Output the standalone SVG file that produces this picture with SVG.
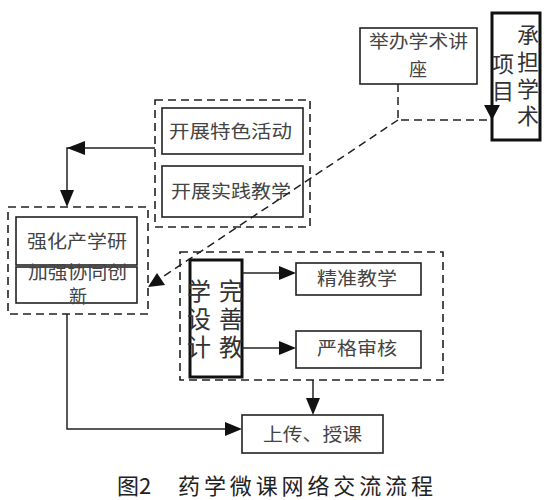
<svg xmlns="http://www.w3.org/2000/svg" width="550" height="500" viewBox="0 0 550 500">
<style>
.bg{fill:#fff}
.box{fill:#fff;stroke:#222;stroke-width:1.6}
.thick{fill:#fff;stroke:#111;stroke-width:3}
.grp{fill:none;stroke:#222;stroke-width:1.6;stroke-dasharray:8,5}
.ln{fill:none;stroke:#222;stroke-width:1.5}
.dl{fill:none;stroke:#222;stroke-width:1.5;stroke-dasharray:8,5}
.ah{fill:#111;stroke:none}
.t{font-family:"Noto Sans CJK SC","Noto Sans",sans-serif;font-size:18px;fill:#444}
.tv{font-family:"Noto Sans CJK SC","Noto Sans",sans-serif;font-size:22px;fill:#333;writing-mode:vertical-rl;letter-spacing:5px}
.tv2{font-family:"Noto Sans CJK SC","Noto Sans",sans-serif;font-size:24px;fill:#333;writing-mode:vertical-rl;letter-spacing:4px}
.cap{font-family:"Noto Sans CJK SC","Noto Sans",sans-serif;font-size:22px;fill:#222}
</style>
<rect class="bg" x="0" y="0" width="550" height="500"/>

<g id="node-jubanxueshu">
<rect class="box" x="360" y="28" width="117" height="56"/>
<text class="t" x="369" y="48" textLength="99" lengthAdjust="spacingAndGlyphs">举办学术讲</text>
<text class="t" x="418" y="76" text-anchor="middle">座</text>
</g>

<g id="node-chengdan">
<rect class="thick" x="492" y="13" width="48" height="127"/>
<text class="tv" x="528" y="24">承担学术</text>
<text class="tv" x="503" y="53">项目</text>
</g>

<g id="group-kaizhan">
<rect class="grp" x="155" y="100" width="155" height="127"/>
<g id="node-tese">
<rect class="box" x="162" y="108" width="141" height="46"/>
<text class="t" x="169" y="138" textLength="123" lengthAdjust="spacingAndGlyphs">开展特色活动</text>
</g>
<g id="node-shijian">
<rect class="box" x="162" y="166" width="141" height="51"/>
<text class="t" x="171" y="198" textLength="120" lengthAdjust="spacingAndGlyphs">开展实践教学</text>
</g>
</g>

<g id="group-qianghua">
<rect class="grp" x="8" y="207" width="140" height="107"/>
<g id="node-chanxueyan">
<rect class="box" x="16" y="217" width="121" height="48"/>
<text class="t" x="27" y="248" textLength="100" lengthAdjust="spacingAndGlyphs">强化产学研</text>
</g>
<g id="node-xietong">
<rect class="box" x="16" y="267" width="121" height="36"/>
<text class="t"><tspan x="28" y="279" textLength="99" lengthAdjust="spacingAndGlyphs">加强协同创</tspan><tspan x="69" y="303">新</tspan></text>
</g>
</g>

<g id="group-jiaoxue">
<rect class="grp" x="180" y="252" width="263" height="128"/>
<g id="node-sheji">
<rect class="thick" x="190" y="260" width="52" height="117"/>
<text class="tv2" x="199" y="279">学设计</text>
<text class="tv2" x="231" y="279">完善教</text>
</g>
<g id="node-jingzhun">
<rect class="box" x="296" y="263" width="125" height="32"/>
<text class="t" x="317" y="285" textLength="80" lengthAdjust="spacingAndGlyphs">精准教学</text>
</g>
<g id="node-shenhe">
<rect class="box" x="296" y="331" width="125" height="37"/>
<text class="t" x="317" y="355" textLength="80" lengthAdjust="spacingAndGlyphs">严格审核</text>
</g>
</g>

<g id="node-shangchuan">
<rect class="box" x="242" y="415" width="141" height="38"/>
<text class="t" x="263" y="441" textLength="99" lengthAdjust="spacingAndGlyphs">上传、授课</text>
</g>

<g id="connectors">
<polyline class="ln" points="155,148 67,148 67,192"/>
<polygon class="ah" points="67,148 85,141 85,155"/>
<polygon class="ah" points="67,207 60,190 74,190"/>

<polyline class="dl" points="398,84 398,120 492,120"/>
<polygon class="ah" points="484,105 500,105 492,120"/>
<line class="dl" x1="398" y1="120" x2="158" y2="280"/>
<polygon class="ah" points="148,287 157,273 165,285"/>

<line class="ln" x1="242" y1="273" x2="282" y2="273"/>
<polygon class="ah" points="296,273 279,266 279,280"/>
<line class="ln" x1="242" y1="348" x2="282" y2="348"/>
<polygon class="ah" points="296,348 279,341 279,355"/>

<line class="ln" x1="313" y1="380" x2="313" y2="400"/>
<polygon class="ah" points="313,415 306,398 320,398"/>

<polyline class="ln" points="67,314 67,429 228,429"/>
<polygon class="ah" points="242,429 225,422 225,436"/>
</g>

<text class="cap" x="117" y="494">图2</text>
<text class="cap" x="178" y="494" textLength="255" lengthAdjust="spacing">药学微课网络交流流程</text>
</svg>
